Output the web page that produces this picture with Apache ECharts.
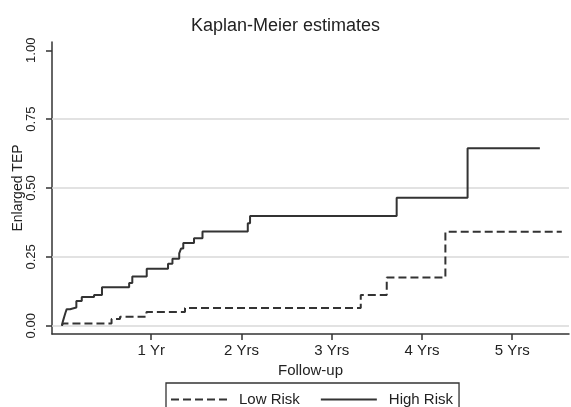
<!DOCTYPE html>
<html>
<head>
<meta charset="utf-8">
<script src="https://cdn.jsdelivr.net/npm/echarts@6/dist/echarts.min.js"></script>
<style>
  html, body { margin: 0; padding: 0; background: #fff; }
  #chart { width: 571px; height: 407px; }
</style>
</head>
<body>
<div id="chart"></div>
<script>
// follow-up in years, cumulative incidence
const highRiskTimes = [0.01, 0.017, 0.028, 0.039, 0.05, 0.063, 0.10, 0.17, 0.23, 0.366, 0.454, 0.755, 0.79, 0.95,
  1.186, 1.235, 1.31, 1.33, 1.355, 1.474, 1.568, 2.07, 2.095, 3.72, 4.506, 5.307];
const highRiskValues = [0, 0.012, 0.024, 0.036, 0.048, 0.06, 0.066, 0.09, 0.104, 0.112, 0.14, 0.155, 0.179, 0.207,
  0.225, 0.243, 0.263, 0.28, 0.30, 0.318, 0.342, 0.372, 0.398, 0.465, 0.644, 0.644];
const lowRiskTimes = [0.01, 0.02, 0.56, 0.654, 0.947, 1.374, 3.322, 3.61, 4.26, 5.55];
const lowRiskValues = [0, 0.008, 0.024, 0.033, 0.05, 0.064, 0.112, 0.175, 0.341, 0.341];

const xTicks = [1, 2, 3, 4, 5];
const xTickLabels = ['1 Yr', '2 Yrs', '3 Yrs', '4 Yrs', '5 Yrs'];
const yTicks = [0, 0.25, 0.5, 0.75, 1];
const yGridLines = [0, 0.25, 0.5, 0.75];

const ink = '#333';
const font = '"Liberation Sans", Arial, sans-serif';

const pairs = (xs, ys) => xs.map((x, i) => [x, ys[i]]);

const chart = echarts.init(document.getElementById('chart'), null, { renderer: 'canvas' });
chart.setOption({
  animation: false,
  backgroundColor: '#fff',
  textStyle: { fontFamily: font, color: '#222' },
  title: {
    text: 'Kaplan-Meier estimates',
    left: 'center',
    top: 12,
    textStyle: { fontSize: 18, fontWeight: 'normal', color: '#222', fontFamily: font },
  },
  legend: {
    data: ['Low Risk', 'High Risk'],
    left: 166,
    top: 383,
    orient: 'horizontal',
    itemWidth: 56,
    itemHeight: 14,
    itemGap: 20,
    padding: [9, 6, 30, 4],
    borderColor: ink,
    borderWidth: 1.3,
    itemStyle: { opacity: 0 },
    textStyle: { fontSize: 15, color: '#222', fontFamily: font, padding: [0, 0, 0, 7] },
  },
  grid: { left: 52, right: 2, top: 42, bottom: 73, containLabel: false },
  xAxis: {
    type: 'value',
    min: -0.1,
    max: 5.63,
    name: 'Follow-up',
    nameLocation: 'middle',
    nameGap: 22,
    nameTextStyle: { fontSize: 15, color: '#222', fontFamily: font },
    axisLine: { show: true, onZero: false, lineStyle: { color: ink, width: 1.5 } },
    axisTick: { show: true, customValues: xTicks, length: 6, lineStyle: { color: ink, width: 1.5 } },
    axisLabel: {
      customValues: xTicks,
      margin: 9,
      fontSize: 15,
      color: '#222',
      formatter: (v) => xTickLabels[xTicks.indexOf(v)],
    },
    splitLine: { show: false },
  },
  yAxis: {
    type: 'value',
    min: -0.03,
    max: 1.03,
    name: 'Enlarged TEP',
    nameLocation: 'middle',
    nameGap: 27,
    nameMoveOverlap: false,
    nameTextStyle: { fontSize: 14, color: '#222', fontFamily: font },
    axisLine: { show: true, onZero: false, lineStyle: { color: ink, width: 1.5 } },
    axisTick: { show: true, customValues: yTicks, length: 6, lineStyle: { color: ink, width: 1.5 } },
    axisLabel: {
      customValues: yTicks,
      rotate: 90,
      margin: 14,
      fontSize: 13,
      color: '#222',
      formatter: (v) => v.toFixed(2),
    },
    splitLine: { show: false },
  },
  series: [
    {
      name: 'Low Risk',
      type: 'line',
      step: 'end',
      symbol: 'none',
      data: pairs(lowRiskTimes, lowRiskValues),
      lineStyle: { color: ink, width: 2, type: [8, 4] },
      itemStyle: { color: ink },
      z: 3,
      markLine: {
        silent: true,
        symbol: 'none',
        label: { show: false },
        lineStyle: { color: '#d9d9d9', width: 1.5, type: 'solid' },
        data: yGridLines.map((v) => ({ yAxis: v })),
        z: 1,
      },
    },
    {
      name: 'High Risk',
      type: 'line',
      step: 'end',
      symbol: 'none',
      data: pairs(highRiskTimes, highRiskValues),
      lineStyle: { color: ink, width: 2, type: 'solid' },
      itemStyle: { color: ink },
      z: 4,
    },
  ],
});
</script>
</body>
</html>
